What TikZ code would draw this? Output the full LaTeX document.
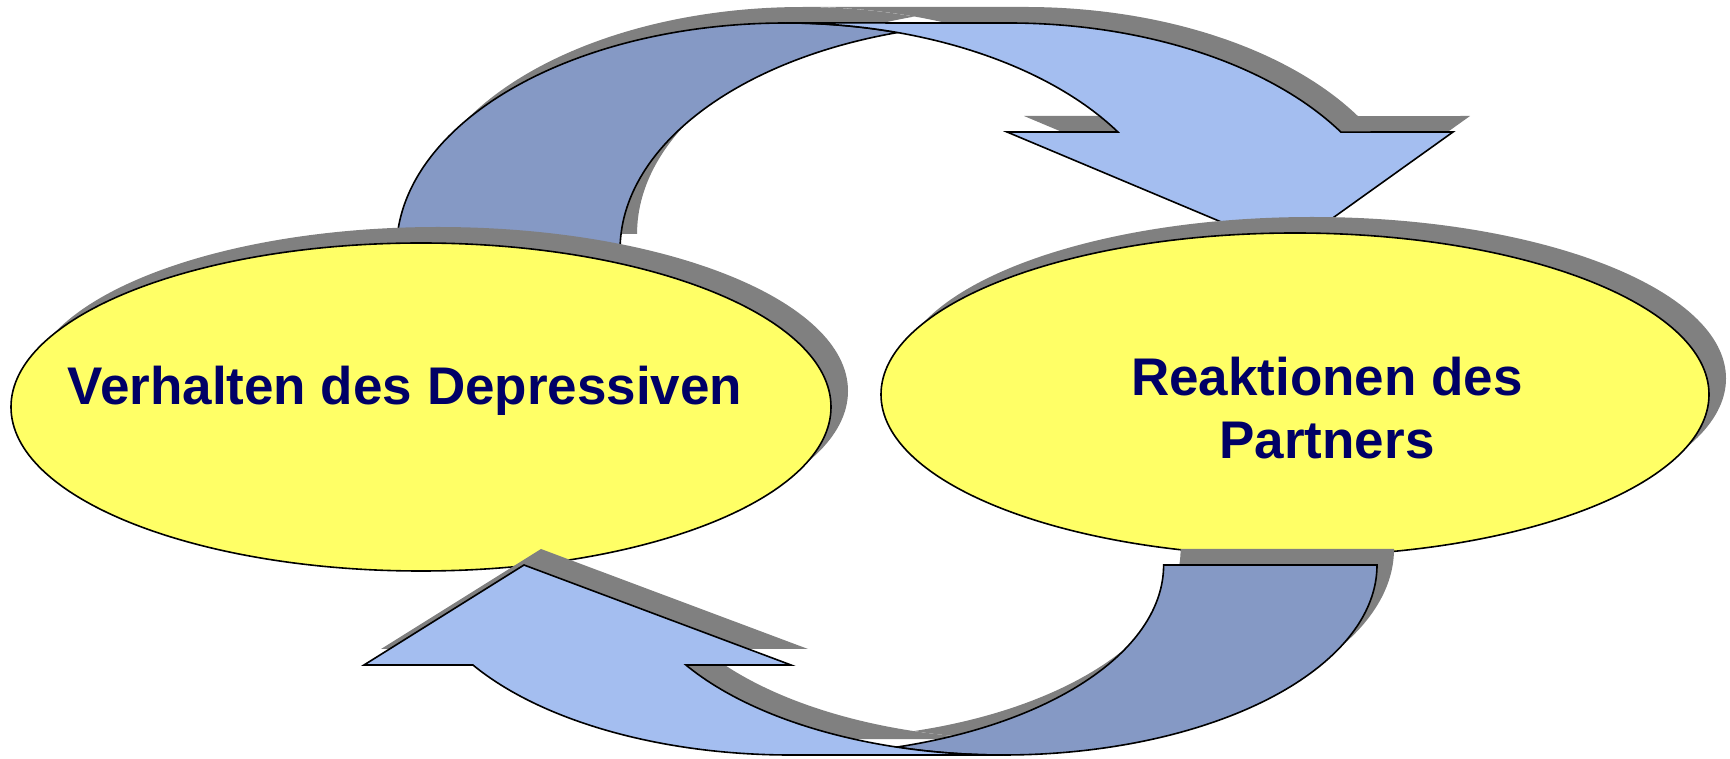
\documentclass[tikz,border=0pt]{standalone}
\usepackage{fontspec}
\setmainfont{Liberation Sans}
\usetikzlibrary{shapes.geometric}
\definecolor{ellfill}{HTML}{FFFF66}
\definecolor{backblue}{HTML}{8599C5}
\definecolor{frontblue}{HTML}{A4BEF0}
\definecolor{shadowgray}{HTML}{808080}
\definecolor{textnavy}{HTML}{000066}
\tikzset{
  outline/.style={draw=black, line width=1.6pt, line join=miter},
  shadowshape/.style={fill=shadowgray, draw=none},
  bubble/.style={ellipse, inner sep=0pt, outer sep=0pt},
  label/.style={inner sep=0pt, text=textnavy, font=\bfseries\fontsize{53}{63}\selectfont, anchor=base},
}
% top curved arrow (left bubble -> right bubble)
\def\TopBack{(396.5,508) arc[start angle=180, end angle=73.3, x radius=389, y radius=227]
  arc[start angle=106.7, end angle=180, x radius=389, y radius=227] -- cycle}
\def\TopFront{(1288,508) -- (1007,626) -- (1117.9,626)
  arc[start angle=31.3, end angle=90, x radius=389, y radius=227] -- (1008.5,735)
  arc[start angle=90, end angle=31.3, x radius=389, y radius=227] -- (1453,626) -- cycle}
% bottom curved arrow (right bubble -> left bubble)
\def\BotBack{(1377,193) arc[start angle=0, end angle=-106.6, x radius=373.5, y radius=190]
  arc[start angle=-73.4, end angle=0, x radius=373.5, y radius=190] -- cycle}
\def\BotFront{(524,193) -- (791,93) -- (685.9,93)
  arc[start angle=-148.25, end angle=-90, x radius=373.5, y radius=190] -- (790.5,3)
  arc[start angle=-90, end angle=-148.25, x radius=373.5, y radius=190] -- (364,93) -- cycle}
\begin{document}
\begin{tikzpicture}[x=1pt, y=1pt]
\useasboundingbox (0,0) rectangle (1730,758);
% --- top arrow ---
\begin{scope}[shift={(17,16)}]
  \fill[shadowshape] \TopBack;
  \fill[shadowshape] \TopFront;
\end{scope}
\filldraw[outline, fill=backblue] \TopBack;
\filldraw[outline, fill=frontblue] \TopFront;
% --- bubbles ---
\node[bubble, shadowshape, minimum width=820pt, minimum height=328pt] (lshadow) at (438,367) {};
\node[bubble, outline, fill=ellfill, minimum width=820pt, minimum height=328pt] (left) at (421,351) {};
\node[bubble, shadowshape, minimum width=828pt, minimum height=323pt] (rshadow) at (1312,379.5) {};
\node[bubble, outline, fill=ellfill, minimum width=828pt, minimum height=323pt] (right) at (1295,363.5) {};
\node[label] (ltext) at (405,353) {Verhalten des Depressiven};
\node[label] (rtext1) at (1327,362) {Reaktionen des};
\node[label] (rtext2) at (1327,299) {Partners};
% --- bottom arrow ---
\begin{scope}[shift={(17,16)}]
  \fill[shadowshape] \BotBack;
  \fill[shadowshape] \BotFront;
\end{scope}
\filldraw[outline, fill=backblue] \BotBack;
\filldraw[outline, fill=frontblue] \BotFront;
\end{tikzpicture}
\end{document}
